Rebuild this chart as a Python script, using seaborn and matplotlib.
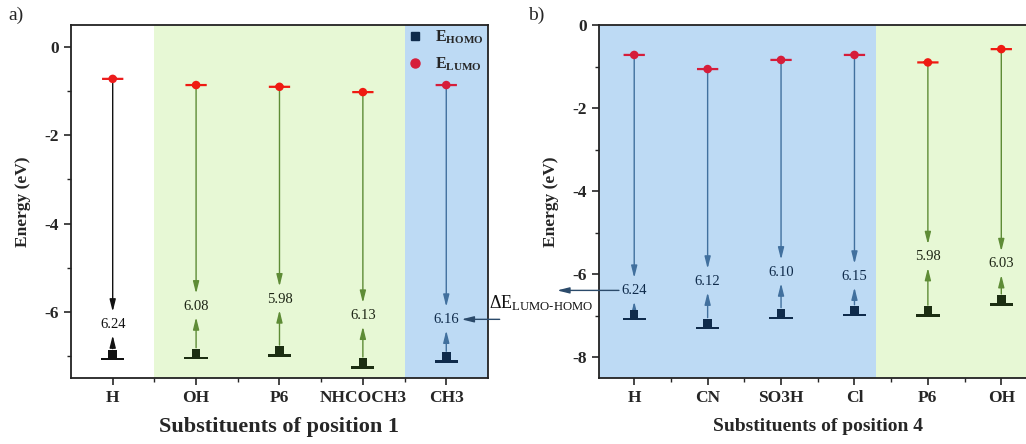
import numpy as np
import pandas as pd
import matplotlib
matplotlib.use('Agg')
import matplotlib.pyplot as plt
import seaborn as sns
from matplotlib.path import Path
from matplotlib.lines import Line2D

sns.set_style('ticks')
plt.rcParams['font.family'] = ['Liberation Serif', 'DejaVu Serif']
plt.rcParams['mathtext.fontset'] = 'custom'
plt.rcParams['mathtext.rm'] = 'Liberation Serif'
plt.rcParams['mathtext.bf'] = 'Liberation Serif:bold'
plt.rcParams['mathtext.it'] = 'Liberation Serif:italic'
plt.rcParams['axes.unicode_minus'] = False

# ---- data ----
subs_1 = ['H', 'OH', 'P6', 'NHCOCH3', 'CH3']
lumo_1 = [-0.72, -0.86, -0.90, -1.02, -0.86]
gap_1 = [6.24, 6.08, 5.98, 6.13, 6.16]
gap_label_y_1 = [-6.28, -5.87, -5.71, -6.08, -6.17]
region_1 = ['none', 'green', 'green', 'green', 'blue']

subs_4 = ['H', 'CN', 'SO3H', 'Cl', 'P6', 'OH']
lumo_4 = [-0.72, -1.06, -0.84, -0.72, -0.90, -0.58]
gap_4 = [6.24, 6.12, 6.10, 6.15, 5.98, 6.03]
gap_label_y_4 = [-6.39, -6.17, -5.95, -6.05, -5.58, -5.75]
region_4 = ['blue', 'blue', 'blue', 'blue', 'green', 'green']

# ---- styles ----
bg = {'green': '#e7f8d5', 'blue': '#bddaf4'}
line_col = {'none': '#111111', 'green': '#5e8c36', 'blue': '#41709e'}
homo_col = {'none': '#111111', 'green': '#1c2e12', 'blue': '#0f2b4b'}
lumo_col = {'none': '#ec1c1c', 'green': '#ef1a12', 'blue': '#d61d3a'}
text_col = {'none': '#111111', 'green': '#1c2414', 'blue': '#0f2b4b'}


def rect(x0, x1, y0, y1):
    return Path([(x0, y0), (x1, y0), (x1, y1), (x0, y1), (x0, y0)],
                [Path.MOVETO, Path.LINETO, Path.LINETO, Path.LINETO, Path.CLOSEPOLY])


# HOMO marker: small square sitting on a flat bar
homo_marker = Path.make_compound_path(rect(-4.2, 4.2, -3.6, 4.4), rect(-11.5, 11.5, -6.0, -3.6))
# LUMO marker: dot with a short bar through it
circ = Path.circle((0, 0), 4.2)
lumo_marker = Path.make_compound_path(circ, rect(-10.5, 10.5, -1.1, 1.1))


def make_df(subs, lumo, gap, lab_y, region):
    df = pd.DataFrame({'sub': subs, 'lumo': lumo, 'gap': gap, 'lab_y': lab_y, 'region': region})
    df['pos'] = np.arange(len(df))
    df['homo'] = df['lumo'] - df['gap']
    return df


df1 = make_df(subs_1, lumo_1, gap_1, gap_label_y_1, region_1)
df4 = make_df(subs_4, lumo_4, gap_4, gap_label_y_4, region_4)

fig = plt.figure(figsize=(10.26, 4.44), dpi=100)
ax1 = fig.add_axes([0.0692, 0.1486, 0.4064, 0.795])
ax2 = fig.add_axes([0.5838, 0.1486, 0.4279, 0.795])

ARROW = '-|>,head_length=0.6,head_width=0.15'


def draw(ax, df):
    arr = dict(arrowstyle=ARROW, mutation_scale=12, lw=1.0)
    for _, r in df.iterrows():
        c = line_col[r.region]
        ax.annotate('', xy=(r.pos, r.lab_y), xytext=(r.pos, r.lumo),
                    arrowprops=dict(arr, color=c, shrinkA=0, shrinkB=9))
        ax.annotate('', xy=(r.pos, r.lab_y), xytext=(r.pos, r.homo),
                    arrowprops=dict(arr, color=c, shrinkA=4, shrinkB=8))
        ax.text(r.pos, r.lab_y, f'{r.gap:.2f}', ha='center', va='center',
                fontsize=10.5, color=text_col[r.region], zorder=5)
    sns.scatterplot(data=df, x='pos', y='homo', hue='region', palette=homo_col,
                    marker=homo_marker, s=280, linewidth=0, legend=False, ax=ax, zorder=4)
    sns.scatterplot(data=df, x='pos', y='lumo', hue='region', palette=lumo_col,
                    marker=lumo_marker, s=235, linewidth=0, legend=False, ax=ax, zorder=4)
    ax.set_xticks(df['pos'])
    ax.set_xticklabels(df['sub'])
    ax.set_xticks(df['pos'][:-1] + 0.5, minor=True)


draw(ax1, df1)
draw(ax2, df4)

ax1.axvspan(0.5, 3.5, color=bg['green'], zorder=0, lw=0)
ax1.axvspan(3.5, 4.5, color=bg['blue'], zorder=0, lw=0)
ax1.set_xlim(-0.5, 4.5)
ax1.set_ylim(-7.5, 0.5)
ax1.set_yticks([0, -2, -4, -6])
ax1.set_yticks([-1, -3, -5, -7], minor=True)

ax2.axvspan(-0.5, 3.3, color=bg['blue'], zorder=0, lw=0)
ax2.axvspan(3.3, 5.5, color=bg['green'], zorder=0, lw=0)
ax2.set_xlim(-0.48, 5.5)
ax2.set_ylim(-8.5, 0)
ax2.set_yticks([0, -2, -4, -6, -8])
ax2.set_yticks([-1, -3, -5, -7], minor=True)

for ax in (ax1, ax2):
    ax.tick_params(which='major', direction='out', length=5, width=1.2, labelsize=12.5)
    ax.tick_params(which='minor', direction='out', length=3, width=1.0)
    for lab in ax.get_xticklabels() + ax.get_yticklabels():
        lab.set_fontweight('bold')
    for s in ax.spines.values():
        s.set_linewidth(1.3)
        s.set_color('#222222')
    ax.set_ylabel('Energy (eV)', fontsize=12.5, fontweight='bold', labelpad=10)

ax1.set_xlabel('Substituents of position 1', fontsize=16, fontweight='bold', labelpad=8)
ax2.set_xlabel('Substituents of position 4', fontsize=14, fontweight='bold', labelpad=9)

# legend
handles = [Line2D([], [], marker='s', color=homo_col['blue'], ls='none', markersize=5.5),
           Line2D([], [], marker='o', color=lumo_col['blue'], ls='none', markersize=6.5)]
ax1.legend(handles, [r'$\mathbf{E_{HOMO}}$', r'$\mathbf{E_{LUMO}}$'], loc='upper right',
           frameon=False, fontsize=11.5, handlelength=1.2, handletextpad=0.7,
           labelspacing=0.6, borderaxespad=0.1, bbox_to_anchor=(1.01, 1.012))

# Delta E annotation between the panels
fig.text(0.477, 0.318, r'$\Delta\mathrm{E}_{\mathrm{LUMO\text{-}HOMO}}$', fontsize=13,
         ha='left', va='center', color='#111111')
ax1.annotate('', xy=(4, df1['lab_y'][4]), xytext=(0.487, df1['lab_y'][4]),
             textcoords=('figure fraction', 'data'), annotation_clip=False,
             arrowprops=dict(arrowstyle=ARROW, mutation_scale=12, lw=1.0,
                             color='#2b4a6a', shrinkA=0, shrinkB=11))
ax2.annotate('', xy=(0.543, df4['lab_y'][0]), xycoords=('figure fraction', 'data'),
             xytext=(0, df4['lab_y'][0]), textcoords='data', annotation_clip=False,
             arrowprops=dict(arrowstyle=ARROW, mutation_scale=12, lw=1.0,
                             color='#2b4a6a', shrinkA=11, shrinkB=0))

fig.text(0.008, 0.965, 'a)', fontsize=14, va='center')
fig.text(0.515, 0.965, 'b)', fontsize=14, va='center')

fig.savefig('out.png', dpi=100)
